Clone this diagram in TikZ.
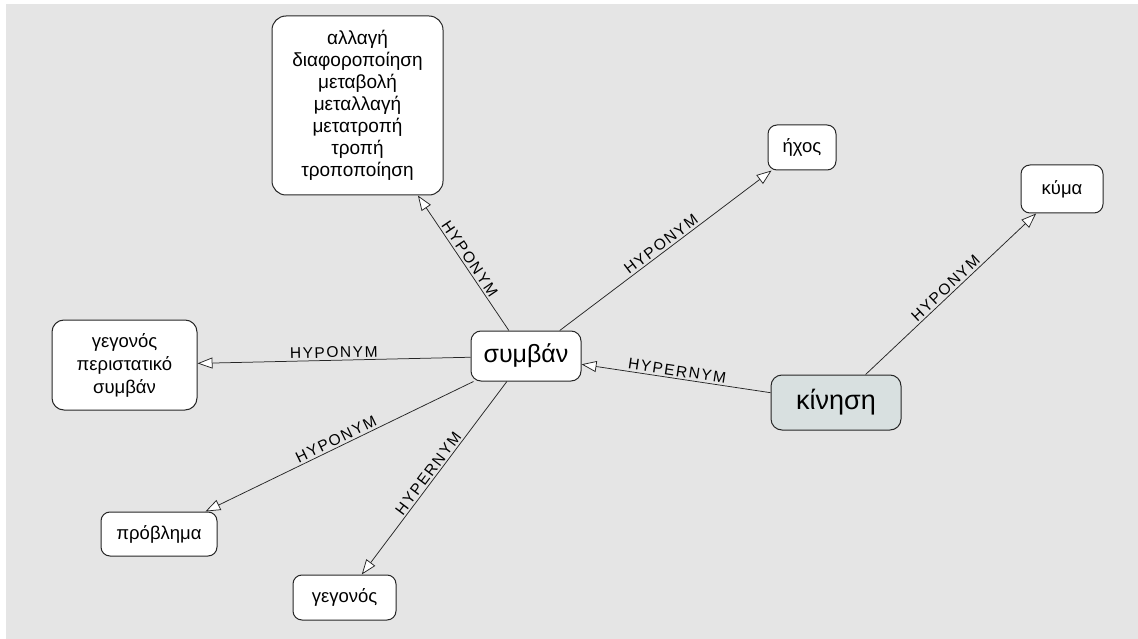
\documentclass[tikz,border=0pt]{standalone}
\usepackage{fontspec}
\setmainfont{Liberation Sans}
\newfontfamily\lblfont[LetterSpace=10]{Liberation Sans}
\usetikzlibrary{arrows.meta}
\tikzset{
  box/.style={draw=black!85, line width=1pt, rounded corners=9pt, fill=white, align=center, inner sep=0pt,
    font=\fontsize{18.5}{23}\selectfont},
  arr/.style={draw=black!85, line width=0.75pt, -{Triangle[length=15pt,width=11pt,fill=white,line width=0.75pt]}},
  lbl/.style={sloped, above, inner sep=2pt, font=\lblfont\fontsize{15.5}{15.5}\selectfont, pos=0.5}
}
\begin{document}
\begin{tikzpicture}[x=1pt,y=-1pt]
\useasboundingbox (0,0) rectangle (1138,639);
\fill[white] (0,0) rectangle (1138,639);
\fill[black!10] (6,4) rectangle (1138,639);

\node[box, rounded corners=14pt, minimum width=171pt, minimum height=179pt, font=\fontsize{19}{22}\selectfont] (big) at (357.5,105.5)
  {αλλαγή\\διαφοροποίηση\\μεταβολή\\μεταλλαγή\\μετατροπή\\τροπή\\τροποποίηση};
\node[box, minimum width=68pt, minimum height=45pt] (echos) at (802,147.5) {ήχος};
\node[box, minimum width=82pt, minimum height=48pt] (kyma) at (1062,189) {κύμα};
\node[box, rounded corners=12pt, minimum width=145pt, minimum height=90pt] (gps) at (124.5,365) {γεγονός\\περιστατικό\\συμβάν};
\node[box, rounded corners=10pt, minimum width=110pt, minimum height=50pt, font=\fontsize{25}{25}\selectfont] (symban) at (526,356) {συμβάν};
\node[box, rounded corners=11pt, minimum width=130pt, minimum height=55pt, fill={rgb,255:red,216;green,224;blue,224}, font=\fontsize{27}{27}\selectfont] (kinisi) at (836,402.5) {κίνηση};
\node[box, minimum width=116pt, minimum height=44pt] (provlima) at (159,534) {πρόβλημα};
\node[box, minimum width=103pt, minimum height=45pt] (gegonos) at (344.5,597.5) {γεγονός};

\draw[arr] (symban) -- node[lbl] {HYPONYM} (big);
\draw[arr] (symban) -- node[lbl] {HYPONYM} (echos);
\draw[arr] (symban) -- node[lbl] {HYPONYM} (gps);
\draw[arr] (symban) -- node[lbl] {HYPONYM} (provlima);
\draw[arr] (symban) -- node[lbl] {HYPERNYM} (gegonos);
\draw[arr] (kinisi) -- node[lbl] {HYPERNYM} (symban);
\draw[arr] (kinisi) -- node[lbl] {HYPONYM} (kyma);
\end{tikzpicture}
\end{document}
